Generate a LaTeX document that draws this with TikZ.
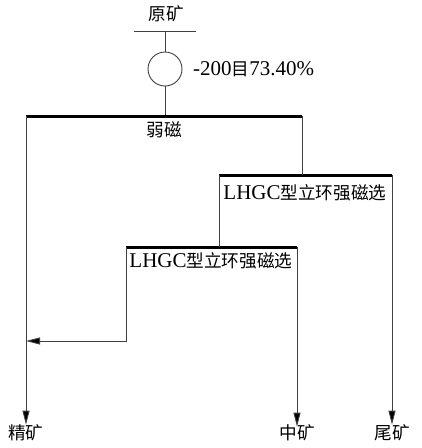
\documentclass[tikz,border=0pt]{standalone}
\usepackage{fontspec}
\setmainfont{Liberation Serif}
\newfontfamily\cjk{Noto Sans CJK SC}[Scale=0.84]
\usetikzlibrary{arrows.meta}

\begin{document}
\begin{tikzpicture}[x=1pt,y=-1pt,
	line/.style={draw=black!75,line width=0.9pt},
	bar/.style={draw=black,line width=3pt},
	flow/.style={line,-{Triangle[length=14pt,width=7pt,fill=black]}},
	lbl/.style={inner sep=0pt,font=\fontsize{21}{21}\selectfont}]
	
	\useasboundingbox (0,0) rectangle (422,448);
	
	% feed and grinding
	\node[lbl] (feed) at (166,14) {\cjk 原矿};
	\coordinate (fl) at (134,31);
	\coordinate (fr) at (196,31);
	\coordinate (ftop) at (165,31);
	\draw[line] (fl) -- (fr);
	\node[line,circle,minimum size=34pt,inner sep=0pt] (mill) at (165,69) {};
	\node[lbl,anchor=west] (grind) at (193,69) {-200{\cjk 目}73.40\%};
	\draw[line] (ftop) -- (mill.north);
	
	% bars
	\coordinate (b1l) at (26,116);
	\coordinate (b1r) at (302,116);
	\coordinate (b1m) at (165,116);
	\coordinate (b2l) at (219,175);
	\coordinate (b2r) at (392,175);
	\coordinate (b2m) at (302,175);
	\coordinate (b3l) at (126,247);
	\coordinate (b3r) at (297,247);
	\coordinate (b3m) at (219,247);
	\draw[line] (mill.south) -- (b1m);
	\draw[bar] (b1l) -- (b1r);
	\draw[bar] (b2l) -- (b2r);
	\draw[bar] (b3l) -- (b3r);
	\node[lbl] (wms) at (164,130) {\cjk 弱磁};
	\node[lbl] (hgms1) at (305,193) {LHGC{\cjk 型立环强磁选}};
	\node[lbl] (hgms2) at (211,261) {LHGC{\cjk 型立环强磁选}};
	
	% products
	\node[lbl] (conc) at (26,433) {\cjk 精矿};
	\node[lbl] (midd) at (297,433) {\cjk 中矿};
	\node[lbl] (tail) at (392,433) {\cjk 尾矿};
	\coordinate (join) at (26,341);
	
	\draw[line] (b1r) -- (b2m);
	\draw[line] (b2l) -- (b3m);
	\draw[flow] (b1l) -- (conc.north);
	\draw[flow] (b3l) |- (join);
	\draw[flow] (b3r) -- ([yshift=-2pt]midd.north);
	\draw[flow] (b2r) -- (tail.north);
	
\end{tikzpicture}
\end{document}
